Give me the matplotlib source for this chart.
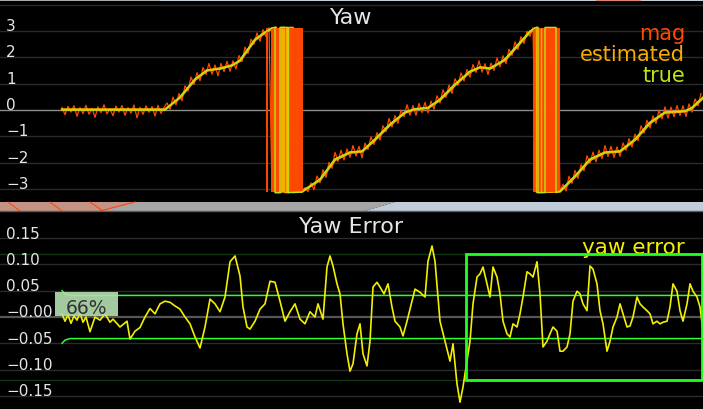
import numpy as np
import matplotlib
matplotlib.use('Agg')
import matplotlib.pyplot as plt
from matplotlib.patches import Rectangle, Polygon
import matplotlib.transforms as mtransforms

plt.rcParams['font.family'] = ['DejaVu Sans']

# ===数据 (时间单位: 秒)
true_t = [0.0, 10.3, 11.8, 13.3, 14.5, 15.8, 17.0, 17.8, 19.3, 20.3, 21.0, 21.3, 21.3, 21.8, 21.8, 22.6, 22.6,
          24.0, 25.8, 27.3, 28.8, 30.0, 31.3, 32.8, 34.3, 35.3, 36.6, 37.8, 39.3, 40.8, 41.8, 42.8, 44.3, 45.8,
          46.8, 47.3, 47.6, 47.6, 48.3, 48.3, 49.4, 49.4, 49.8, 51.3, 52.8, 54.3, 55.8, 57.3, 58.8, 60.3, 62.3,
          63.0, 64.1]
true_yaw = [0.0, 0.0, 0.50, 1.18, 1.52, 1.56, 1.68, 1.90, 2.70, 2.96, 3.12, 3.14, -3.14, -3.14, 3.14, 3.14, -3.14,
            -3.12, -2.62, -1.86, -1.60, -1.56, -1.10, -0.53, -0.08, 0.04, 0.08, 0.42, 0.99, 1.48, 1.63, 1.56, 1.94,
            2.58, 3.00, 3.12, 3.14, -3.14, -3.14, 3.14, 3.14, -3.14, -3.08, -2.50, -1.86, -1.60, -1.56, -1.10,
            -0.46, -0.08, -0.04, 0.10, 0.49]

est_t = [0.0, 10.3, 11.8, 13.3, 14.5, 15.8, 17.0, 17.8, 19.3, 20.3, 21.0, 21.4, 21.4, 21.9, 21.9, 22.3, 22.3,
         22.7, 22.7, 23.1, 23.1, 24.0, 25.8, 27.3, 28.8, 30.0, 31.3, 32.8, 34.3, 35.3, 36.6, 37.8, 39.3, 40.8,
         41.8, 42.8, 44.3, 45.8, 46.8, 47.3, 47.5, 47.5, 49.8, 51.3, 52.8, 54.3, 55.8, 57.3, 58.8, 60.3, 62.3,
         63.0, 64.1]
est_yaw = [0.02, 0.02, 0.47, 1.15, 1.50, 1.58, 1.70, 1.87, 2.66, 2.94, 3.10, 3.13, -3.12, -3.12, 3.12, 3.12,
           -3.12, -3.12, 3.12, 3.12, -3.12, -3.10, -2.66, -1.90, -1.62, -1.58, -1.14, -0.57, -0.10, 0.03, 0.08,
           0.38, 0.95, 1.45, 1.62, 1.58, 1.90, 2.54, 2.97, 3.10, 3.13, -3.12, -3.10, -2.54, -1.90, -1.62, -1.58,
           -1.14, -0.50, -0.10, -0.05, 0.07, 0.45]

mag_dt = 0.3  # 磁力计采样间隔
mag_yaw = [0.10, -0.18, 0.14, -0.08, 0.16, -0.24, 0.09, -0.14, 0.18, -0.16,
           0.06, -0.28, 0.12, -0.10, 0.20, -0.15, 0.05, -0.22, 0.15, -0.08,
           0.17, -0.20, 0.09, -0.12, 0.19, -0.30, 0.10, -0.17, 0.16, -0.09,
           0.13, -0.23, 0.18, -0.13, 0.10, 0.27, 0.02, 0.49, 0.19, 0.63,
           0.35, 0.92, 0.72, 1.25, 0.97, 1.42, 1.11, 1.62, 1.35, 1.77,
           1.36, 1.71, 1.30, 1.77, 1.46, 1.85, 1.47, 1.87, 1.56, 2.07,
           1.84, 2.39, 2.15, 2.69, 2.50, 2.93, 2.61, 3.06, 2.78, 3.13,
           -3.10, 3.12, -3.08, 3.10, -3.12, 3.13, -3.11, 3.09, -3.13, 3.11,
           -3.08, -2.95, -3.10, -2.77, -3.03, -2.51, -2.77, -2.27, -2.56, -1.99,
           -2.21, -1.61, -1.96, -1.53, -1.90, -1.48, -1.80, -1.35, -1.75, -1.38,
           -1.82, -1.26, -1.50, -1.02, -1.31, -0.86, -1.14, -0.60, -0.82, -0.32,
           -0.65, -0.21, -0.51, 0.00, -0.26, 0.20, -0.20, 0.17, -0.20, 0.25,
           -0.10, 0.29, -0.11, 0.34, 0.03, 0.54, 0.27, 0.77, 0.48, 0.95,
           0.63, 1.19, 0.94, 1.41, 1.10, 1.54, 1.25, 1.73, 1.43, 1.87,
           1.44, 1.76, 1.35, 1.78, 1.50, 1.98, 1.64, 2.06, 1.76, 2.31,
           2.08, 2.59, 2.31, 2.79, 2.53, 2.99, 2.80, 3.13, -3.10, 3.12,
           -3.11, 3.10, -3.12, 3.13, -3.09, 3.11, -3.10, -2.82, -3.08, -2.52,
           -2.79, -2.30, -2.60, -2.08, -2.31, -1.74, -2.02, -1.60, -1.97, -1.53,
           -1.85, -1.35, -1.77, -1.38, -1.81, -1.40, -1.76, -1.25, -1.53, -1.09,
           -1.41, -0.92, -1.17, -0.60, -0.88, -0.39, -0.69, -0.22, -0.51, -0.01,
           -0.34, 0.12, -0.31, 0.11, -0.26, 0.17, -0.21, 0.16, -0.25, 0.23,
           -0.08, 0.42, 0.16, 0.63]

# 磁力计 / 估计值在 ±pi 处来回跳变的时刻
mag_wrap_t = [20.5, 21.0, 21.1, 21.2, 21.3, 21.4, 21.5, 21.6, 21.7, 21.8, 21.9, 22.0, 22.1, 22.2, 22.3, 22.4,
              22.5, 22.6, 22.7, 22.8, 22.9, 23.0, 23.1, 23.2, 23.35, 23.5, 23.6, 23.7, 23.85, 24.0,
              47.2, 47.3, 47.4, 47.5, 47.6, 47.7, 47.8, 47.9, 48.0, 48.1, 48.2, 48.3, 48.4, 48.5, 48.6, 48.7,
              48.8, 48.9, 49.0, 49.1, 49.2, 49.3, 49.4, 49.5, 49.6, 49.7]
est_wrap_t = [21.85, 22.0, 22.1, 22.2, 22.35, 22.45, 22.6, 47.35, 47.9]

err_t = [0.0, 0.3, 0.6, 0.9, 1.2, 1.5, 1.8, 2.1, 2.4, 2.8, 3.3, 3.8, 4.3, 4.8, 5.1, 5.8, 6.5, 6.8, 7.3, 7.8,
         8.3, 8.8, 9.3, 9.8, 10.3, 10.8, 11.3, 11.8, 12.3, 12.8, 13.3, 13.8, 14.3, 14.8, 15.3, 15.8, 16.3,
         16.8, 17.3, 17.8, 18.1, 18.5, 18.8, 19.3, 19.8, 20.3, 20.8, 21.3, 21.8, 22.3, 22.8, 23.3, 23.8,
         24.3, 24.8, 25.3, 25.6, 26.1, 26.5, 26.8, 27.1, 27.5, 27.8, 28.1, 28.5, 28.8, 29.1, 29.5, 29.8,
         30.1, 30.5, 30.8, 31.1, 31.5, 31.8, 32.2, 32.6, 33.0, 33.3, 33.8, 34.1, 34.5, 35.0, 35.3, 35.8,
         36.3, 36.6, 37.0, 37.3, 37.8, 38.3, 38.8, 39.1, 39.5, 39.8, 40.1, 40.5, 40.8, 41.1, 41.5, 41.8,
         42.1, 42.5, 42.8, 43.1, 43.5, 43.8, 44.1, 44.5, 44.8, 45.1, 45.5, 45.8, 46.1, 46.5, 46.8, 47.1,
         47.5, 47.8, 48.1, 48.5, 48.8, 49.1, 49.5, 49.8, 50.1, 50.5, 50.8, 51.1, 51.5, 51.8, 52.1, 52.5,
         52.8, 53.1, 53.5, 53.8, 54.1, 54.5, 54.8, 55.1, 55.5, 55.8, 56.1, 56.5, 56.8, 57.1, 57.5, 57.8,
         58.1, 58.5, 58.8, 59.1, 59.5, 59.8, 60.1, 60.5, 60.8, 61.1, 61.5, 61.8, 62.1, 62.5, 62.8, 63.1,
         63.5, 63.8, 64.1]
err_yaw = [0.006, -0.008, 0.004, -0.012, 0.002, -0.006, 0.008, -0.010, 0.000, -0.028, 0.000, -0.006, 0.006,
           -0.010, -0.004, -0.019, -0.008, -0.042, -0.027, -0.020, 0.000, 0.016, 0.006, 0.025, 0.030, 0.028,
           0.021, 0.015, 0.000, -0.013, -0.038, -0.059, -0.019, 0.034, 0.025, 0.010, 0.038, 0.105, 0.116,
           0.078, 0.019, -0.019, -0.023, -0.008, 0.015, 0.025, 0.068, 0.066, 0.030, -0.008, 0.010, 0.025,
           -0.004, -0.013, 0.010, 0.000, 0.025, -0.004, 0.095, 0.116, 0.097, 0.063, 0.044, -0.013, -0.070,
           -0.103, -0.089, -0.032, -0.013, -0.070, -0.093, -0.046, 0.057, 0.066, 0.057, 0.044, 0.063, 0.019,
           -0.008, -0.019, -0.036, -0.008, 0.030, 0.053, 0.047, 0.038, 0.106, 0.135, 0.106, -0.008, -0.046,
           -0.084, -0.051, -0.127, -0.162, -0.133, -0.084, -0.046, 0.025, 0.076, 0.082, 0.095, 0.063, 0.038,
           0.095, 0.076, 0.044, -0.008, -0.032, -0.038, -0.013, -0.019, 0.006, 0.038, 0.086, 0.082, 0.076,
           0.105, 0.044, -0.057, -0.046, -0.032, -0.019, -0.027, -0.065, -0.065, -0.057, -0.032, 0.030,
           0.049, 0.044, 0.025, 0.012, 0.097, 0.091, 0.063, 0.012, -0.013, -0.065, -0.046, -0.019, 0.000,
           0.025, 0.006, -0.019, -0.017, 0.000, 0.038, 0.025, 0.019, 0.012, 0.006, -0.013, -0.008, -0.013,
           -0.010, -0.008, 0.019, 0.063, 0.049, 0.012, -0.008, 0.025, 0.063, 0.049, 0.038, 0.019, -0.027]

thr_t = [0.0, 0.3, 0.8, 64.1]
thr_hi = [0.050, 0.044, 0.041, 0.041]
thr_lo = [-0.050, -0.044, -0.041, -0.041]

yaw_ticks = [-3, -2, -1, 0, 1, 2, 3]
err_ticks = [-0.15, -0.10, -0.05, 0.0, 0.05, 0.10, 0.15]
err_labels = ['\u22120.15', '\u22120.10', '\u22120.05', '\u22120.00', '0.05', '0.10', '0.15']
box_t = (40.4, 64.0)
box_err = (-0.12, 0.12)
pass_text = '66%'

# ===颜色
c_mag = '#ff4a00'
c_est = '#f5ad00'
c_true = '#b8e614'
c_err = '#f2f000'
c_green = '#2cff2c'
txt_c = '#e6e6e6'
W, H = 703, 410

fig = plt.figure(figsize=(W / 100, H / 100), dpi=100, facecolor='black')


def fpx(x, y):
    return (x / W, 1 - y / H)


def band(pts, color, **kw):
    fig.add_artist(Polygon([fpx(*p) for p in pts], closed=True, transform=fig.transFigure,
                           facecolor=color, edgecolor='none', **kw))


# 顶部和中间的场景背景条
band([(0, 0), (160, 0), (160, 2), (0, 2)], '#a9a9a9')
band([(160, 0), (703, 0), (703, 2), (160, 2)], '#c3cdd9')
band([(592, 0), (645, 0), (640, 1.5), (597, 1.5)], '#ff3a00')
band([(0, 203), (135, 203), (100, 212), (0, 212)], '#c49383')
band([(135, 203), (395, 203), (365, 212), (100, 212)], '#a6a6a6')
band([(395, 203), (703, 203), (703, 212), (365, 212)], '#c1ccd9')
for x0, x1 in [(8, 20), (50, 62), (90, 103)]:
    fig.add_artist(plt.Line2D([x0 / W, x1 / W], [1 - 203 / H, 1 - 212 / H], transform=fig.transFigure,
                              color='#ff4a10', lw=0.8))
fig.add_artist(plt.Line2D([100 / W, 135 / W], [1 - 212 / H, 1 - 203 / H], transform=fig.transFigure,
                          color='#ff4a10', lw=0.8))
fig.add_artist(plt.Line2D([0, 1], [1 - 212 / H, 1 - 212 / H], transform=fig.transFigure, color='#5a5a5a', lw=1))

# ===Yaw
ax1 = fig.add_axes([0, (H - 203) / H, 1, 201 / H])
ax1.set_facecolor('black')
ax1.set_xlim(-6.2, 64.1)
ax1.set_ylim(-3.498, 4.144)
ax1.axis('off')
for v in yaw_ticks + [4]:
    ax1.axhline(v, color='#8c8c8c' if v == 0 else '#2a2a2a', lw=1, zorder=0)
tr1 = mtransforms.blended_transform_factory(ax1.transAxes, ax1.transData)
for v in yaw_ticks:
    lab = str(v) if v >= 0 else '\u2212' + str(-v)
    ax1.text(6 / W, v + 0.04, lab, transform=tr1, color=txt_c, fontsize=11, va='baseline', ha='left')

mag_t = np.arange(len(mag_yaw)) * mag_dt
ax1.plot(mag_t, mag_yaw, color=c_mag, lw=0.9, zorder=2)
ax1.plot(est_t, est_yaw, color=c_est, lw=1.8, zorder=3)
ax1.vlines(mag_wrap_t, -3.12, 3.12, color=c_mag, lw=1.4, zorder=3.5)
ax1.vlines(est_wrap_t, -3.12, 3.12, color=c_est, lw=1.0, zorder=3.6)
ax1.plot(true_t, true_yaw, color=c_true, lw=1.0, zorder=4)

ax1.text(0.5, 1 - 22 / 201, 'Yaw', transform=ax1.transAxes, color=txt_c, fontsize=16, ha='center',
         va='baseline')
for lab, c, yb in [('mag', c_mag, 40), ('estimated', c_est, 61), ('true', c_true, 82)]:
    ax1.text(685 / W, 1 - (yb - 2) / 201, lab, transform=ax1.transAxes, color=c, fontsize=15, ha='right',
             va='baseline')

# ===Yaw Error
ax2 = fig.add_axes([0, 0, 1, 198 / H])
ax2.set_facecolor('black')
ax2.set_xlim(-6.2, 64.1)
ax2.set_ylim(-0.1749, 0.2015)
ax2.axis('off')
for v in err_ticks:
    ax2.axhline(v, color='#555555' if v == 0 else '#2a2a2a', lw=1.6 if v == 0 else 1, zorder=0)
for v in box_err:
    ax2.axhline(v, color='#123512', lw=1, zorder=0)
tr2 = mtransforms.blended_transform_factory(ax2.transAxes, ax2.transData)
for v, lab in zip(err_ticks, err_labels):
    ax2.text(6 / W, v + 0.001, lab, transform=tr2, color=txt_c, fontsize=11, va='baseline', ha='left')

ax2.plot(thr_t, thr_hi, color=c_green, lw=1.1, zorder=2)
ax2.plot(thr_t, thr_lo, color=c_green, lw=1.1, zorder=2)
ax2.plot(err_t, err_yaw, color=c_err, lw=1.2, zorder=3)
ax2.add_patch(Rectangle((box_t[0], box_err[0]), box_t[1] - box_t[0], box_err[1] - box_err[0],
                        facecolor='none', edgecolor='#22ff22', lw=2, zorder=4))
ax2.add_patch(Rectangle((-0.7, 0.002), 6.3, 0.0455, facecolor='#b2dcae', edgecolor='none', alpha=0.92,
                        zorder=5))
ax2.text(2.45, 0.007, pass_text, color='#333333', fontsize=13.5, ha='center', va='baseline', zorder=6)

ax2.text(0.5, 1 - 21 / 198, 'Yaw Error', transform=ax2.transAxes, color=txt_c, fontsize=16, ha='center',
         va='baseline')
ax2.text(685 / W, 1 - 42 / 198, 'yaw error', transform=ax2.transAxes, color=c_err, fontsize=15.5, ha='right',
         va='baseline')

fig.savefig('out.png', dpi=100, facecolor='black')
